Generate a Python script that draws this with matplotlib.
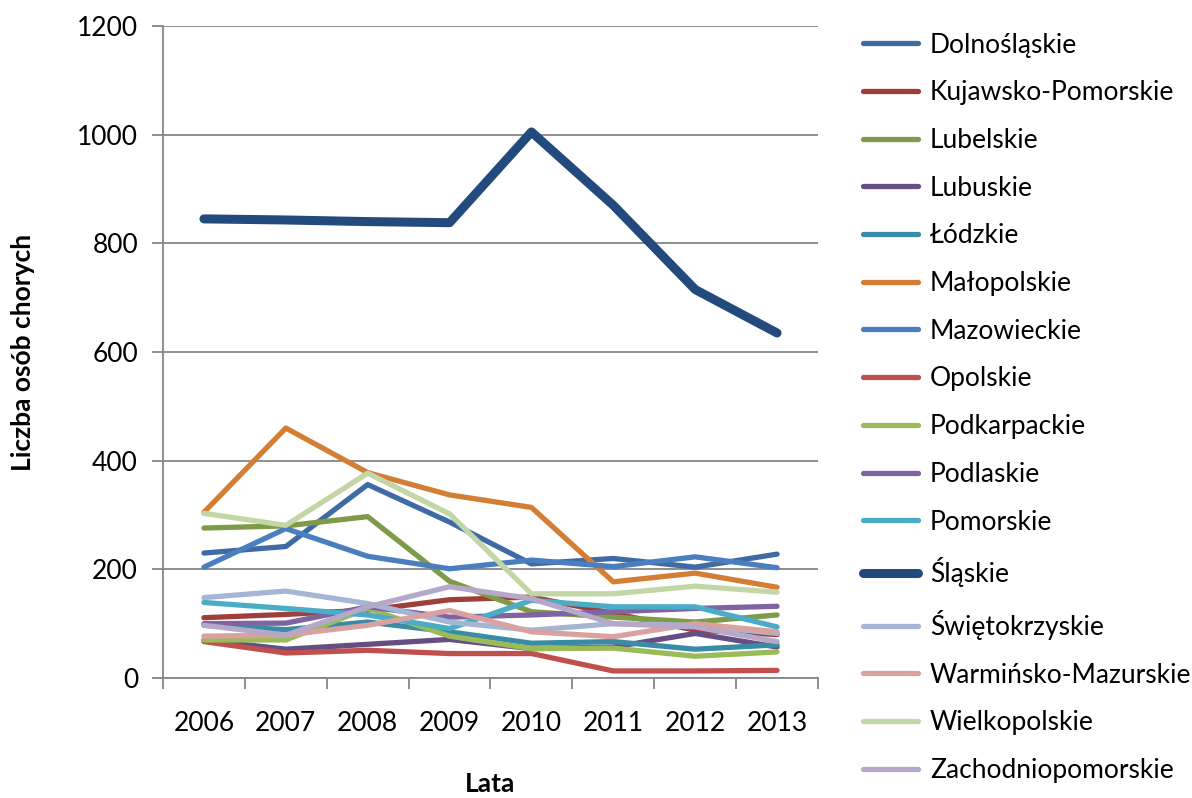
import matplotlib.pyplot as plt
import numpy as np

plt.rcParams["font.family"] = ["Lato", "DejaVu Sans"]

years = ["2006", "2007", "2008", "2009", "2010", "2011", "2012", "2013"]

regions = [
    "Dolnośląskie", "Kujawsko-Pomorskie", "Lubelskie", "Lubuskie", "Łódzkie",
    "Małopolskie", "Mazowieckie", "Opolskie", "Podkarpackie", "Podlaskie",
    "Pomorskie", "Śląskie", "Świętokrzyskie", "Warmińsko-Mazurskie",
    "Wielkopolskie", "Zachodniopomorskie",
]

dolnoslaskie = [230, 242, 356, 287, 210, 220, 204, 228]
kujawsko_pomorskie = [111, 117, 125, 144, 149, 119, 88, 80]
lubelskie = [276, 280, 297, 178, 122, 112, 103, 116]
lubuskie = [70, 53, 62, 71, 54, 57, 82, 57]
lodzkie = [97, 89, 103, 85, 64, 67, 53, 61]
malopolskie = [305, 460, 378, 337, 314, 177, 193, 167]
mazowieckie = [204, 275, 224, 201, 217, 205, 223, 203]
opolskie = [67, 46, 51, 45, 45, 13, 13, 14]
podkarpackie = [70, 70, 128, 77, 54, 55, 40, 48]
podlaskie = [100, 101, 131, 112, 116, 122, 128, 132]
pomorskie = [139, 128, 116, 91, 143, 131, 131, 94]
slaskie = [845, 843, 840, 838, 1005, 870, 715, 635]
swietokrzyskie = [148, 160, 137, 103, 88, 100, 97, 82]
warminsko_mazurskie = [77, 79, 97, 124, 85, 76, 100, 85]
wielkopolskie = [303, 281, 377, 302, 155, 155, 169, 158]
zachodniopomorskie = [97, 79, 131, 168, 146, 100, 94, 67]

series = [
    dolnoslaskie, kujawsko_pomorskie, lubelskie, lubuskie, lodzkie,
    malopolskie, mazowieckie, opolskie, podkarpackie, podlaskie,
    pomorskie, slaskie, swietokrzyskie, warminsko_mazurskie,
    wielkopolskie, zachodniopomorskie,
]

colors = [
    "#3F6BA4", "#9E3F3C", "#7F9A48", "#654E83", "#398CA3",
    "#D47E35", "#4A7EBF", "#C0504D", "#9BBB59", "#8064A2",
    "#4BACC6", "#234A7C", "#A5B6D5", "#D9A2A0", "#C3D6A5", "#B5A8C9",
]

fig = plt.figure(figsize=(11.92, 7.98), dpi=100)
ax = fig.add_axes([163 / 1192, 1 - 678 / 798, (818 - 163) / 1192, (678 - 26) / 798])

x = np.arange(len(years))
for name, vals, c in zip(regions, series, colors):
    lw = 6.5 if name == "Śląskie" else 3.8
    ax.plot(x, vals, color=c, lw=lw, label=name, solid_capstyle="round",
            solid_joinstyle="round", zorder=3)

ax.set_xlim(-0.5, len(years) - 0.5)
ax.set_ylim(0, 1200)
ax.set_yticks(np.arange(0, 1201, 200))
ax.set_xticks(x)
ax.set_xticklabels(years)
ax.set_xticks(np.arange(-0.5, len(years), 1), minor=True)
ax.tick_params(axis="x", which="major", length=0, pad=24, labelsize=19)
ax.tick_params(axis="x", which="minor", length=8, width=1.3, color="#868686")
ax.tick_params(axis="y", length=8, width=1.3, color="#868686", labelsize=19, pad=10)
ax.grid(axis="y", color="#868686", lw=1.3, zorder=1)
for s in ["top", "right"]:
    ax.spines[s].set_visible(False)
for s in ["left", "bottom"]:
    ax.spines[s].set_color("#868686")
    ax.spines[s].set_linewidth(1.3)

ax.set_xlabel("Lata", fontsize=19, fontweight="bold", labelpad=26)
ax.set_ylabel("Liczba osób chorych", fontsize=19, fontweight="bold", labelpad=30)

fig.legend(loc="upper left", bbox_to_anchor=(852 / 1192, 1 - 22 / 798),
           frameon=False, fontsize=19, handlelength=2.1, handletextpad=0.45,
           labelspacing=0.86, borderaxespad=0)

fig.savefig("out.png", dpi=100)
